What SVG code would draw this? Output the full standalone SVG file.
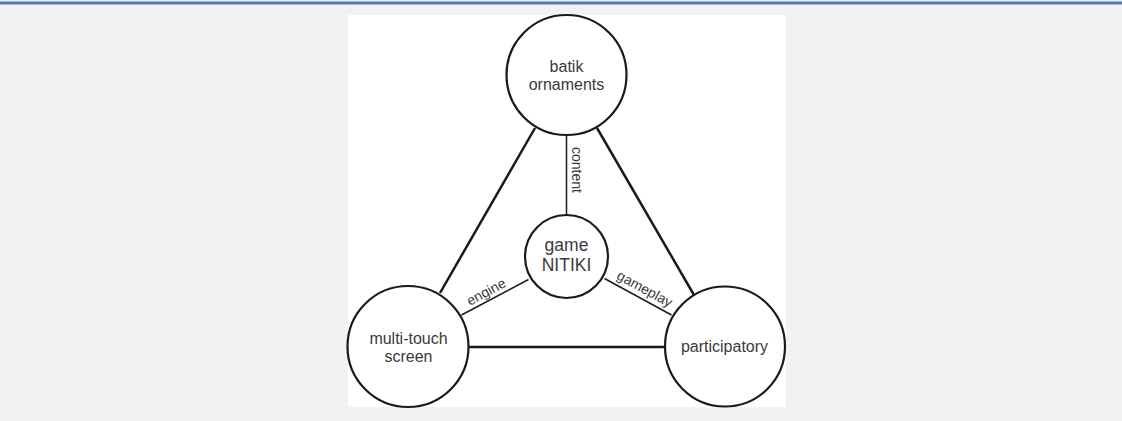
<svg xmlns="http://www.w3.org/2000/svg" width="1122" height="421" viewBox="0 0 1122 421">
<style>
.node{fill:#fff;stroke:#1a1a1a;stroke-width:2.2}
.edge{stroke:#1a1a1a;stroke-width:2.5;fill:none}
.thin{stroke:#1a1a1a;stroke-width:1.5;fill:none}
.t{font-family:"Liberation Sans",Arial,sans-serif;font-size:16px;fill:#3a3a3a;text-anchor:middle}
.lbl{font-family:"Liberation Sans",Arial,sans-serif;font-size:14px;fill:#3a3a3a;text-anchor:middle}
</style>
<rect x="0" y="0" width="1122" height="421" fill="#f2f2f2"/>
<rect x="0" y="1.5" width="1122" height="3" fill="#4a7ebb"/>
<rect x="348" y="15" width="438" height="392" fill="#ffffff"/>
<g id="connectors">
<line class="edge" x1="535" y1="128" x2="440" y2="293"/>
<line class="edge" x1="597" y1="128" x2="694" y2="295"/>
<line class="edge" x1="468" y1="347" x2="665" y2="347"/>
<line class="thin" x1="566.5" y1="135" x2="566.5" y2="214"/>
<line class="thin" x1="461.5" y1="315" x2="528.5" y2="279.5"/>
<line class="thin" x1="604.5" y1="278.5" x2="671.5" y2="315"/>
<text class="lbl" transform="translate(572,170) rotate(90)">content</text>
<text class="lbl" transform="translate(488.5,296) rotate(-28.2)">engine</text>
<text class="lbl" transform="translate(642.5,293) rotate(28.6)">gameplay</text>
</g>
<g id="batik">
<circle class="node" cx="566.5" cy="75" r="60"/>
<text class="t" x="566.5" y="71.5">batik</text>
<text class="t" x="566.5" y="90">ornaments</text>
</g>
<g id="game">
<circle class="node" cx="566.5" cy="256.5" r="41.5"/>
<text class="t" x="566.5" y="250.5" style="font-size:17.5px">game</text>
<text class="t" x="566.5" y="270.5" style="font-size:17.5px">NITIKI</text>
</g>
<g id="multitouch">
<circle class="node" cx="408" cy="346.5" r="60.5"/>
<text class="t" x="408.5" y="343.5">multi-touch</text>
<text class="t" x="408.5" y="361.5">screen</text>
</g>
<g id="participatory">
<circle class="node" cx="725" cy="346.5" r="60"/>
<text class="t" x="724.5" y="351.5">participatory</text>
</g>
</svg>
